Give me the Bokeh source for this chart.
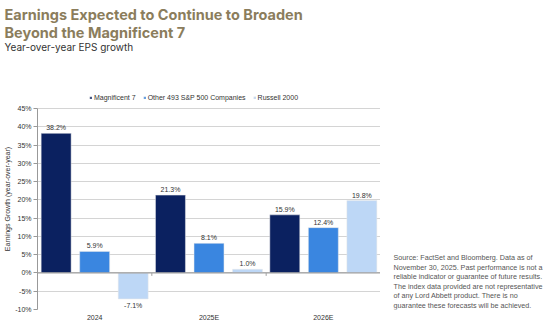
from bokeh.plotting import figure
from bokeh.layouts import column, row
from bokeh.models import (ColumnDataSource, Legend, LegendItem, FixedTicker, Span, Range1d)
from bokeh.core.properties import value
from bokeh.embed import file_html
from bokeh.resources import INLINE

# ---- data ----
categories = ["2024", "2025E", "2026E"]
series_names = ["Magnificent 7", "Other 493 S&P 500 Companies", "Russell 2000"]
mag7 = [38.2, 21.3, 15.9]
other493 = [5.9, 8.1, 12.4]
russell = [-7.1, 1.0, 19.8]
y_ticks = [-10, -5, 0, 5, 10, 15, 20, 25, 30, 35, 40, 45]

title_lines = ["Earnings Expected to Continue to Broaden", "Beyond the Magnificent 7"]
subtitle = "Year-over-year EPS growth"
y_label = "Earnings Growth (year-over-year)"
source_lines = [
    "Source: FactSet and Bloomberg. Data as of",
    "November 30, 2025. Past performance is not a",
    "reliable indicator or guarantee of future results.",
    "The index data provided are not representative",
    "of any Lord Abbett product. There is no",
    "guarantee these forecasts will be achieved.",
]

# ---- styles ----
colors = ["#0b2160", "#3a86e0", "#bdd7f6"]
offsets = [-0.337, 0.0, 0.337]
bar_w = 0.262
FONT = "Liberation Sans"
TITLE_FONT = "Inter"
TITLE_COLOR = "#8b7d5c"

W, H = 546, 327
HEAD_H = 60          # title block height
MAIN_W = 380         # chart block width
SIDE_W = W - MAIN_W  # source note block width
BODY_H = H - HEAD_H

# ---- header (titles) ----
head = figure(width=W, height=HEAD_H, output_backend="svg", toolbar_location=None,
              title=None, x_range=Range1d(0, W), y_range=Range1d(HEAD_H, 0),
              x_axis_location=None, y_axis_location=None,
              min_border=0, outline_line_color=None)
head.grid.visible = False
head_src = ColumnDataSource(dict(x=[4, 4], y=[13.5, 31.8], t=title_lines))
head.text(x="x", y="y", text="t", source=head_src, text_font=value(TITLE_FONT),
          text_font_size="14.5px", text_font_style="bold", text_color=TITLE_COLOR,
          text_baseline="alphabetic", text_align="left")
head.text(x=[4], y=[46], text=[subtitle], text_font=value(TITLE_FONT),
          text_font_size="10px", text_color="#333333",
          text_baseline="alphabetic", text_align="left")

# ---- main chart ----
BL, BT, BB = 37, 28, 18
FH = BODY_H - BT - BB
AXIS_TOP_PAD = 20  # px of frame above the top tick (legend room)
span = y_ticks[-1] - y_ticks[0]
y_end = y_ticks[-1] + AXIS_TOP_PAD * span / (FH - AXIS_TOP_PAD)

p = figure(width=MAIN_W, height=BODY_H, output_backend="svg", toolbar_location=None,
           title=None, x_range=Range1d(0, len(categories)), y_range=Range1d(y_ticks[0], y_end),
           min_border_left=BL, min_border_right=0, min_border_top=BT,
           min_border_bottom=BB, outline_line_color=None)

p.yaxis.ticker = FixedTicker(ticks=y_ticks)
p.yaxis.bounds = (y_ticks[0], y_ticks[-1])
p.yaxis.major_label_overrides = {t: f"{t}%" for t in y_ticks}
p.yaxis.major_label_text_font = FONT
p.yaxis.major_label_text_font_size = "7px"
p.yaxis.major_label_text_color = "#333333"
p.yaxis.major_label_standoff = 2
p.yaxis.major_tick_in = 0
p.yaxis.major_tick_out = 4
p.yaxis.major_tick_line_color = "#999999"
p.yaxis.minor_tick_line_color = None
p.yaxis.axis_line_color = "#999999"
p.yaxis.axis_label = y_label
p.yaxis.axis_label_text_font = FONT
p.yaxis.axis_label_text_font_size = "7px"
p.yaxis.axis_label_text_font_style = "normal"
p.yaxis.axis_label_text_color = "#333333"
p.yaxis.axis_label_standoff = 1

centers = [i + 0.5 for i in range(len(categories))]
p.xaxis.ticker = FixedTicker(ticks=centers)
p.xaxis.major_label_overrides = {c: cat for c, cat in zip(centers, categories)}
p.xaxis.major_label_text_font = FONT
p.xaxis.major_label_text_font_size = "7px"
p.xaxis.major_label_text_color = "#333333"
p.xaxis.major_label_standoff = 4
p.xaxis.major_tick_in = 0
p.xaxis.major_tick_out = 0
p.xaxis.major_tick_line_color = None
p.xaxis.minor_tick_line_color = None
p.xaxis.axis_line_color = None

p.xgrid.grid_line_color = None
p.ygrid.ticker = FixedTicker(ticks=y_ticks)
p.ygrid.grid_line_color = "#d4d4d4"
p.ygrid.grid_line_width = 1

renderers = []
for name, vals, col, off in zip(series_names, [mag7, other493, russell], colors, offsets):
    xs = [c + off for c in centers]
    src = ColumnDataSource(dict(x=xs, top=vals))
    r = p.vbar(x="x", top="top", bottom=0, width=bar_w, source=src,
               fill_color=col, line_color="#e8e8e8", line_width=0.5)
    renderers.append(r)
    pos = ColumnDataSource(dict(x=[x for x, v in zip(xs, vals) if v >= 0],
                                y=[v for v in vals if v >= 0],
                                t=[f"{v:.1f}%" for v in vals if v >= 0]))
    neg = ColumnDataSource(dict(x=[x for x, v in zip(xs, vals) if v < 0],
                                y=[v for v in vals if v < 0],
                                t=[f"{v:.1f}%" for v in vals if v < 0]))
    p.text(x="x", y="y", text="t", source=pos, text_align="center",
           text_baseline="bottom", y_offset=-2, text_font=value(FONT),
           text_font_size="7px", text_color="#333333")
    p.text(x="x", y="y", text="t", source=neg, text_align="center",
           text_baseline="top", y_offset=3, text_font=value(FONT),
           text_font_size="7px", text_color="#333333")

p.add_layout(Span(location=0, dimension="width", line_color="#a0a0a0", line_width=1.2))
bounds = list(range(1, len(categories) + 1))
p.segment(x0=bounds, y0=[0] * len(bounds), x1=bounds, y1=[-0.8] * len(bounds),
          line_color="#a0a0a0", line_width=1)

legend = Legend(items=[LegendItem(label=n, renderers=[r]) for n, r in zip(series_names, renderers)],
                orientation="horizontal", location=(52, FH - 13),
                glyph_width=3, glyph_height=3, label_height=8, label_width=10,
                label_standoff=2, spacing=7, padding=0, margin=0,
                label_text_font=FONT, label_text_font_size="7px",
                label_text_color="#333333", border_line_color=None,
                background_fill_alpha=0)
p.add_layout(legend, "center")

# ---- side note (frame aligned with the chart's frame; y in body pixels) ----
side = figure(width=SIDE_W, height=BODY_H, output_backend="svg", toolbar_location=None,
              title=None, x_range=Range1d(0, SIDE_W), y_range=Range1d(BODY_H - BB, BT),
              x_axis_location=None, y_axis_location=None,
              min_border_left=0, min_border_right=0, min_border_top=BT,
              min_border_bottom=BB, outline_line_color=None)
side.grid.visible = False
side_src = ColumnDataSource(dict(x=[13] * len(source_lines),
                                 y=[197.3 + 9.45 * i for i in range(len(source_lines))],
                                 t=source_lines))
side.text(x="x", y="y", text="t", source=side_src, text_font=value(FONT),
          text_font_size="7.2px", text_color="#555555",
          text_baseline="middle", text_align="left")

layout = column(head, row(p, side, spacing=0), spacing=0)
open("out.html", "w").write(file_html(layout, INLINE))
